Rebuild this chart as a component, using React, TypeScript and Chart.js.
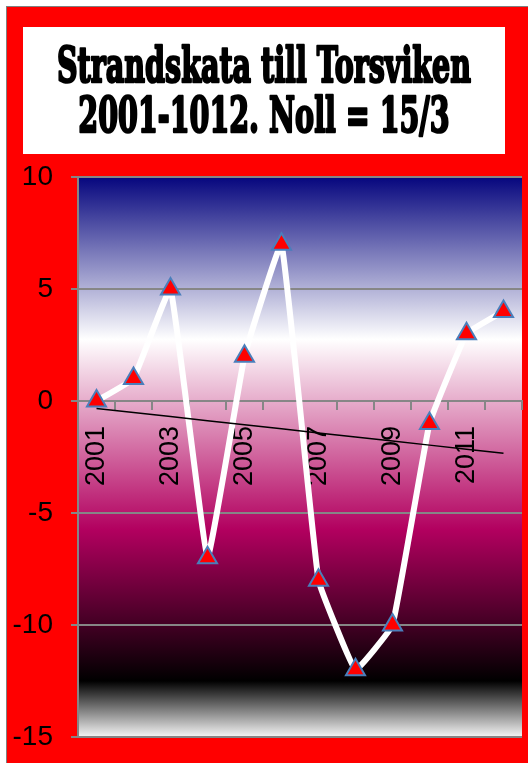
import React, { useEffect, useRef } from 'react';
import { Chart, registerables } from 'chart.js';

Chart.register(...registerables);

const TITLE_LINES = ['Strandskata till Torsviken', '2001-1012. Noll = 15/3'];
const YEARS = ['2001', '2002', '2003', '2004', '2005', '2006', '2007', '2008', '2009', '2010', '2011', '2012'];
const VALUES = [0, 1, 5, -7, 2, 7, -8, -12, -10, -1, 3, 4];
const Y_MIN = -15;
const Y_MAX = 10;
const Y_STEP = 5;

function linearTrend(vals: number[]): number[] {
  const n = vals.length;
  const xs = vals.map((_, i) => i + 1);
  const mx = xs.reduce((a, b) => a + b, 0) / n;
  const my = vals.reduce((a, b) => a + b, 0) / n;
  let sxy = 0;
  let sxx = 0;
  for (let i = 0; i < n; i++) {
    sxy += (xs[i] - mx) * (vals[i] - my);
    sxx += (xs[i] - mx) * (xs[i] - mx);
  }
  const slope = sxy / sxx;
  return xs.map((x) => my + slope * (x - mx));
}

const bgPlugin = {
  id: 'bgPlugin',
  beforeDraw(chart: any) {
    const { ctx, chartArea: a, width, height } = chart;
    ctx.save();
    ctx.fillStyle = '#ff0000';
    ctx.fillRect(0, 0, width, height);
    const g = ctx.createLinearGradient(0, a.top, 0, a.bottom);
    g.addColorStop(0, '#06067e');
    g.addColorStop(0.29, '#ffffff');
    g.addColorStop(0.63, '#b2005f');
    g.addColorStop(0.9, '#000000');
    g.addColorStop(1, '#f6f6f6');
    ctx.fillStyle = g;
    ctx.fillRect(a.left, a.top, a.right - a.left, a.bottom - a.top);

    // title box
    ctx.fillStyle = '#ffffff';
    ctx.fillRect(16, 20, 482, 127);
    ctx.fillStyle = '#000000';
    ctx.strokeStyle = '#000000';
    ctx.lineJoin = 'round';
    ctx.font = 'bold 48px "DejaVu Serif"';
    ctx.textAlign = 'center';
    ctx.textBaseline = 'alphabetic';
    const w1 = ctx.measureText(TITLE_LINES[0]).width;
    const sx = 414 / w1;
    ctx.translate(257, 75);
    ctx.scale(sx, 1);
    ctx.lineWidth = 2.6;
    ctx.fillText(TITLE_LINES[0], 0, 0);
    ctx.strokeText(TITLE_LINES[0], 0, 0);
    ctx.fillText(TITLE_LINES[1], 0, 50);
    ctx.strokeText(TITLE_LINES[1], 0, 50);
    ctx.restore();
  },
};

export default function App() {
  const ref = useRef<HTMLCanvasElement | null>(null);

  useEffect(() => {
    if (!ref.current) return;
    const trend = linearTrend(VALUES);
    const chart = new Chart(ref.current, {
      type: 'line',
      data: {
        labels: YEARS,
        datasets: [
          {
            label: 'Trend',
            data: trend,
            borderColor: '#000000',
            borderWidth: 1.5,
            pointRadius: 0,
            tension: 0,
            fill: false,
          },
          {
            label: 'Strandskata',
            data: VALUES,
            borderColor: '#ffffff',
            borderWidth: 6,
            tension: 0.08,
            pointStyle: 'triangle',
            pointRadius: 11,
            pointBackgroundColor: '#ff0000',
            pointBorderColor: '#4a7ebb',
            pointBorderWidth: 2,
            fill: false,
          },
        ],
      },
      options: {
        responsive: false,
        animation: false,
        layout: { autoPadding: false, padding: { top: 170, left: 0, right: 6, bottom: 26 } },
        plugins: {
          legend: { display: false },
          tooltip: { enabled: false },
          title: { display: false },
        },
        scales: {
          x: {
            type: 'category',
            position: { y: 0 } as any,
            offset: true,
            afterFit: (scale: any) => {
              scale.paddingLeft = 0;
              scale.paddingRight = 0;
              scale.paddingTop = 0;
              scale.paddingBottom = 0;
            },
            grid: {
              offset: true,
              drawOnChartArea: false,
              drawTicks: true,
              tickLength: 8,
              color: '#868686',
              lineWidth: 2,
            },
            border: { display: true, color: '#868686', width: 2 },
            ticks: {
              autoSkip: false,
              minRotation: 90,
              maxRotation: 90,
              padding: 17,
              color: '#000000',
              font: { family: '"Liberation Sans", Arial, sans-serif', size: 27 },
              callback: (_v: any, i: number) => (i % 2 === 0 ? YEARS[i] : ''),
            },
          },
          y: {
            min: Y_MIN,
            max: Y_MAX,
            afterFit: (scale: any) => {
              scale.width = 71;
              scale.paddingTop = 0;
              scale.paddingBottom = 0;
            },
            grid: {
              color: '#868686',
              lineWidth: 2,
              drawTicks: true,
              tickLength: 7,
            },
            border: { display: true, color: '#868686', width: 2 },
            ticks: {
              stepSize: Y_STEP,
              padding: 18,
              color: '#000000',
              font: { family: '"Liberation Sans", Arial, sans-serif', size: 28 },
            },
          },
        },
      },
      plugins: [bgPlugin],
    });
    return () => chart.destroy();
  }, []);

  return (
    <div
      style={{
        position: 'fixed',
        left: 6,
        top: 6,
        borderLeft: '1px solid #808080',
        borderTop: '1px solid #808080',
        width: 521,
        height: 756,
      }}
    >
      <canvas ref={ref} width={521} height={756} style={{ display: 'block' }} />
    </div>
  );
}
